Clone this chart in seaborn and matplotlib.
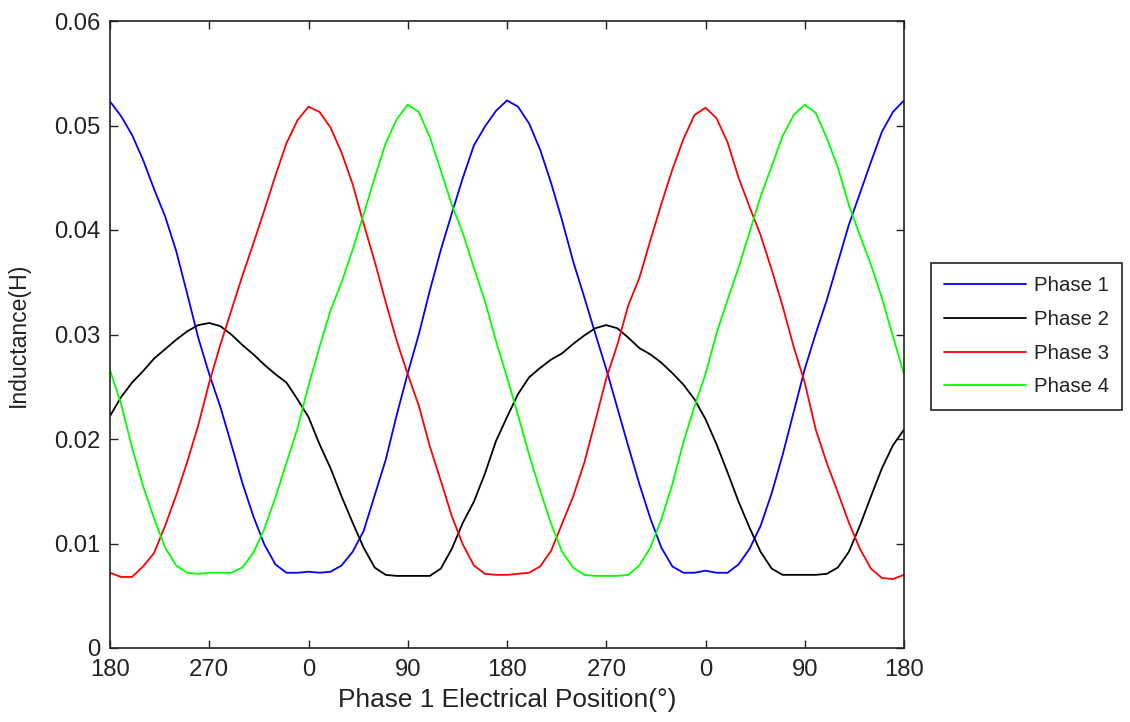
import matplotlib
matplotlib.use("Agg")
import matplotlib.pyplot as plt
import numpy as np
import pandas as pd
import seaborn as sns

# Rotor position along the axis (degrees, two electrical periods)
position = np.arange(0, 721, 10)

phase1 = [0.0523, 0.0509, 0.0491, 0.0467, 0.0439, 0.0413, 0.0380, 0.0339, 0.0297, 0.0262,
          0.0231, 0.0195, 0.0158, 0.0126, 0.0099, 0.0080, 0.0072, 0.0072, 0.0073, 0.0072,
          0.0073, 0.0079, 0.0092, 0.0112, 0.0146, 0.0180, 0.0223, 0.0263, 0.0300, 0.0342,
          0.0381, 0.0416, 0.0450, 0.0481, 0.0499, 0.0514, 0.0524, 0.0518, 0.0502, 0.0477,
          0.0445, 0.0409, 0.0370, 0.0336, 0.0301, 0.0267, 0.0230, 0.0193, 0.0157, 0.0124,
          0.0096, 0.0078, 0.0072, 0.0072, 0.0074, 0.0072, 0.0072, 0.0080, 0.0095, 0.0117,
          0.0148, 0.0185, 0.0226, 0.0267, 0.0301, 0.0333, 0.0369, 0.0405, 0.0435, 0.0465,
          0.0494, 0.0513, 0.0524]

phase2 = [0.0222, 0.0240, 0.0254, 0.0265, 0.0277, 0.0286, 0.0295, 0.0303, 0.0309, 0.0311,
          0.0308, 0.0300, 0.0290, 0.0281, 0.0271, 0.0262, 0.0254, 0.0238, 0.0221, 0.0195,
          0.0172, 0.0145, 0.0120, 0.0096, 0.0077, 0.0070, 0.0069, 0.0069, 0.0069, 0.0069,
          0.0076, 0.0095, 0.0120, 0.0140, 0.0167, 0.0198, 0.0221, 0.0243, 0.0259, 0.0268,
          0.0276, 0.0282, 0.0291, 0.0299, 0.0306, 0.0309, 0.0306, 0.0297, 0.0287, 0.0281,
          0.0273, 0.0263, 0.0252, 0.0238, 0.0219, 0.0195, 0.0168, 0.0140, 0.0115, 0.0092,
          0.0076, 0.0070, 0.0070, 0.0070, 0.0070, 0.0071, 0.0077, 0.0092, 0.0117, 0.0145,
          0.0172, 0.0194, 0.0209]

phase3 = [0.0072, 0.0068, 0.0068, 0.0078, 0.0091, 0.0117, 0.0146, 0.0178, 0.0213, 0.0254,
          0.0290, 0.0323, 0.0356, 0.0387, 0.0419, 0.0452, 0.0483, 0.0505, 0.0518, 0.0513,
          0.0498, 0.0474, 0.0444, 0.0406, 0.0370, 0.0331, 0.0294, 0.0262, 0.0232, 0.0193,
          0.0160, 0.0126, 0.0099, 0.0079, 0.0071, 0.0070, 0.0070, 0.0071, 0.0072, 0.0078,
          0.0093, 0.0119, 0.0145, 0.0177, 0.0217, 0.0258, 0.0290, 0.0328, 0.0354, 0.0390,
          0.0425, 0.0458, 0.0487, 0.0510, 0.0517, 0.0507, 0.0484, 0.0450, 0.0422, 0.0395,
          0.0362, 0.0327, 0.0288, 0.0254, 0.0209, 0.0177, 0.0149, 0.0120, 0.0095, 0.0076,
          0.0067, 0.0066, 0.0070]

phase4 = [0.0266, 0.0234, 0.0192, 0.0155, 0.0124, 0.0096, 0.0079, 0.0072, 0.0071, 0.0072,
          0.0072, 0.0072, 0.0077, 0.0091, 0.0114, 0.0144, 0.0177, 0.0210, 0.0251, 0.0288,
          0.0323, 0.0350, 0.0381, 0.0415, 0.0450, 0.0483, 0.0506, 0.0520, 0.0513, 0.0489,
          0.0457, 0.0424, 0.0397, 0.0364, 0.0332, 0.0294, 0.0259, 0.0223, 0.0185, 0.0151,
          0.0119, 0.0092, 0.0077, 0.0070, 0.0069, 0.0069, 0.0069, 0.0070, 0.0079, 0.0096,
          0.0123, 0.0157, 0.0197, 0.0231, 0.0262, 0.0301, 0.0333, 0.0364, 0.0398, 0.0432,
          0.0461, 0.0490, 0.0510, 0.0520, 0.0512, 0.0488, 0.0460, 0.0424, 0.0395, 0.0367,
          0.0335, 0.0298, 0.0262]

phase_names = ["Phase 1", "Phase 2", "Phase 3", "Phase 4"]
phase_colors = ["#0000ff", "#000000", "#ff0000", "#00ff00"]

x_ticks = [0, 90, 180, 270, 360, 450, 540, 630, 720]
x_tick_labels = ["180", "270", "0", "90", "180", "270", "0", "90", "180"]
y_ticks = [0, 0.01, 0.02, 0.03, 0.04, 0.05, 0.06]
y_tick_labels = ["0", "0.01", "0.02", "0.03", "0.04", "0.05", "0.06"]

df = pd.DataFrame({"position": position, "Phase 1": phase1, "Phase 2": phase2,
                   "Phase 3": phase3, "Phase 4": phase4})
long_df = df.melt(id_vars="position", var_name="phase", value_name="inductance")

sns.set_style("ticks")
plt.rcParams["font.family"] = ["Liberation Sans", "DejaVu Sans"]
plt.rcParams["text.color"] = "#222222"

fig = plt.figure(figsize=(11.3, 7.22), dpi=100)
ax = fig.add_axes([110 / 1130, 74 / 722, 794 / 1130, 627 / 722])

sns.lineplot(data=long_df, x="position", y="inductance", hue="phase",
             hue_order=phase_names, palette=dict(zip(phase_names, phase_colors)),
             linewidth=1.3, errorbar=None, legend=False, ax=ax)

ax.set_xlim(0, 720)
ax.set_ylim(0, 0.06)
ax.set_xticks(x_ticks)
ax.set_xticklabels(x_tick_labels)
ax.set_yticks(y_ticks)
ax.set_yticklabels(y_tick_labels)
ax.tick_params(direction="in", top=True, right=True, length=6, width=1.0,
               labelsize=17.2, colors="#222222")
ax.tick_params(axis="x", pad=8)
ax.tick_params(axis="y", pad=7)
for spine in ax.spines.values():
    spine.set_visible(True)
    spine.set_color("#222222")
    spine.set_linewidth(1.2)

ax.set_xlabel("Phase 1 Electrical Position(°)", fontsize=18.9, labelpad=5, color="#222222")
ax.set_ylabel("Inductance(H)", fontsize=16.6, labelpad=17, color="#222222")

leg = ax.legend(ax.get_lines(), phase_names, loc="upper left",
                bbox_to_anchor=(931 / 1130, 1 - 263 / 722), bbox_transform=fig.transFigure,
                fontsize=14.7, frameon=True, fancybox=False, framealpha=1,
                edgecolor="#222222", handlelength=4.0, handletextpad=0.4,
                borderpad=0.65, labelspacing=0.72, borderaxespad=0)
leg.get_frame().set_linewidth(1.2)

fig.savefig("out.png", dpi=100)
